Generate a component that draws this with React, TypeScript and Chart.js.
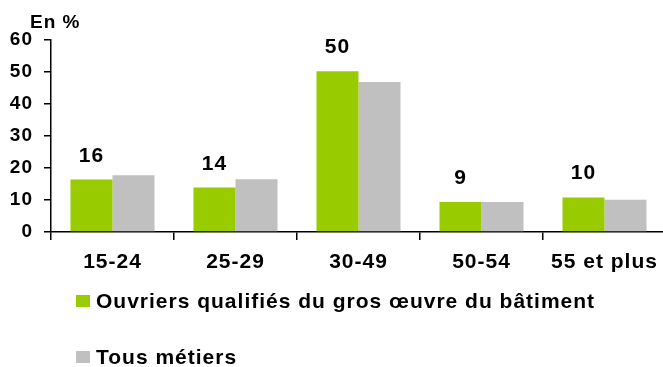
import React, { useEffect, useRef } from 'react';
import { Chart, registerables } from 'chart.js';

Chart.register(...registerables);

// ---- Data ----
const categories = ['15-24', '25-29', '30-49', '50-54', '55 et plus'];
const ouvriersQualifies = [16.4, 13.9, 50.2, 9.4, 10.8];
const tousMetiers = [17.7, 16.5, 46.9, 9.4, 10.1];
const ouvriersLabels = ['16', '14', '50', '9', '10'];
const seriesNames = ['Ouvriers qualifiés du gros œuvre du bâtiment', 'Tous métiers'];
const seriesColors = ['#99CC00', '#C0C0C0'];
const yMin = 0;
const yMax = 60;
const yStep = 10;
const yUnit = 'En %';

const FONT = '"Liberation Sans", Arial, sans-serif';
const SPACING = '1px';

export default function App() {
  const ref = useRef<HTMLCanvasElement>(null);

  useEffect(() => {
    const canvas = ref.current!;

    const spacingPlugin = {
      id: 'spacing',
      beforeUpdate(c: any) { c.ctx.letterSpacing = SPACING; },
      beforeLayout(c: any) { c.ctx.letterSpacing = SPACING; },
      beforeDraw(c: any) { c.ctx.letterSpacing = SPACING; },
    };

    const extrasPlugin = {
      id: 'extras',
      afterDatasetsDraw(c: any) {
        const ctx = c.ctx;
        const meta = c.getDatasetMeta(0);
        ctx.save();
        ctx.letterSpacing = SPACING;
        ctx.font = `bold 21px ${FONT}`;
        ctx.fillStyle = '#000';
        ctx.textAlign = 'center';
        ctx.textBaseline = 'alphabetic';
        meta.data.forEach((el: any, i: number) => {
          const p = el.getProps(['x', 'y'], true);
          ctx.fillText(ouvriersLabels[i], p.x, p.y - 18);
        });
        ctx.restore();
      },
      afterDraw(c: any) {
        const ctx = c.ctx;
        ctx.save();
        ctx.letterSpacing = SPACING;
        ctx.fillStyle = '#000';
        ctx.textAlign = 'left';
        ctx.textBaseline = 'alphabetic';
        // unit title
        ctx.font = `bold 19px ${FONT}`;
        ctx.fillText(yUnit, 30, 28);
        // legend
        ctx.font = `bold 21px ${FONT}`;
        const baseY = 308;
        const rowGap = 56;
        c.data.datasets.forEach((ds: any, i: number) => {
          const by = baseY + i * rowGap;
          ctx.fillStyle = ds.backgroundColor;
          ctx.fillRect(76, by - 13, 14, 12);
          ctx.fillStyle = '#000';
          ctx.fillText(ds.label, 96, by);
        });
        ctx.restore();
      },
    };

    const chart = new Chart(canvas, {
      type: 'bar',
      data: {
        labels: categories,
        datasets: [
          { label: seriesNames[0], data: ouvriersQualifies, backgroundColor: seriesColors[0], borderWidth: 0 },
          { label: seriesNames[1], data: tousMetiers, backgroundColor: seriesColors[1], borderWidth: 0 },
        ],
      },
      options: {
        animation: false,
        responsive: false,
        maintainAspectRatio: false,
        layout: { padding: { left: 0, right: 4, top: 40, bottom: 95 } },
        plugins: {
          legend: { display: false },
          tooltip: { enabled: false },
        },
        datasets: { bar: { categoryPercentage: 0.683, barPercentage: 1 } },
        scales: {
          x: {
            grid: { offset: true, drawOnChartArea: false, drawTicks: true, tickLength: 8, color: '#000', lineWidth: 1.5 },
            border: { color: '#000', width: 1.5 },
            ticks: { color: '#000', font: { family: FONT, size: 21, weight: 'bold' }, padding: 10, maxRotation: 0, autoSkip: false },
            afterFit(s: any) { s.height = 40; },
          },
          y: {
            min: yMin,
            max: yMax,
            ticks: { stepSize: yStep, color: '#000', font: { family: FONT, size: 19, weight: 'bold' }, padding: 11 },
            grid: { drawOnChartArea: false, drawTicks: true, tickLength: 7, color: '#000', lineWidth: 1.5 },
            border: { color: '#000', width: 1.5 },
            afterFit(s: any) { s.width = 51; },
          },
        },
      } as any,
      plugins: [spacingPlugin, extrasPlugin],
    });

    return () => chart.destroy();
  }, []);

  return (
    <div style={{ position: 'fixed', left: 0, top: 0, width: 663, height: 367, overflow: 'hidden', background: '#fff' }}>
      <canvas ref={ref} width={670} height={367} style={{ display: 'block', width: 670, height: 367 }} />
    </div>
  );
}
